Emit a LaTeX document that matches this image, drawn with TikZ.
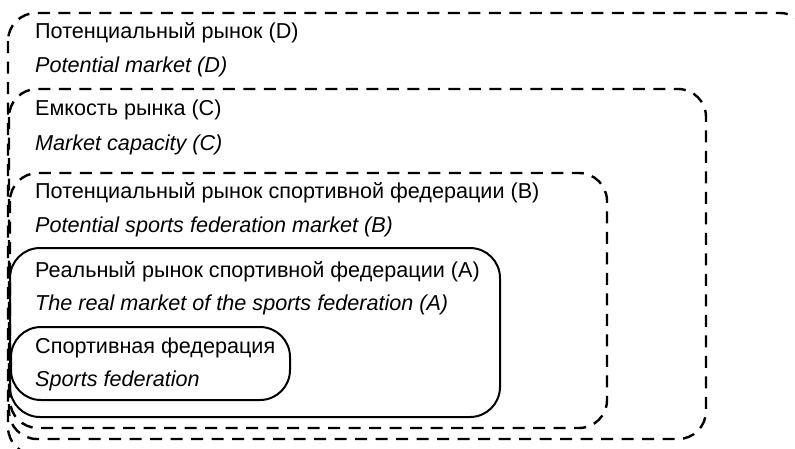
\documentclass[tikz,border=0pt]{standalone}
\usepackage{fontspec}
\setmainfont{Liberation Sans}
\usepackage{tikz}

\begin{document}
\begin{tikzpicture}[x=1pt, y=-1pt,
  dashbox/.style = {draw, line width=2.4pt, dash pattern=on 12pt off 8.5pt, rounded corners=28pt},
  solidbox/.style = {draw, line width=2pt, rounded corners=30pt},
  ru/.style = {anchor=west, inner sep=0pt, font=\fontsize{21.6}{25}\selectfont},
  en/.style = {anchor=west, inner sep=0pt, font=\fontsize{21.6}{25}\selectfont\itshape}]
\useasboundingbox (0,0) rectangle (795,448); \clip (0,0) rectangle (795,448);
\draw [dashbox] (8,13) rectangle (808,455); \draw [dashbox] (9,89) rectangle (706,439); \draw [dashbox] (10,173) rectangle (607,428);
\draw [solidbox] (10,248) rectangle (500,417); \draw [solidbox] (11,327) rectangle (290,400);
\node[ru](dru) at (35,33) {Потенциальный рынок (D)}; \node[en](den) at (35,67) {Potential market (D)};
\node[ru](cru) at (35,110) {Емкость рынка (C)}; \node[en](cen) at (35,145) {Market capacity (C)};
\node[ru](bru) at (35,193) {Потенциальный рынок спортивной федерации (B)}; \node[en](ben) at (35,227) {Potential sports federation market (B)};
\node[ru](aru) at (35,272) {Реальный рынок спортивной федерации (A)}; \node[en](aen) at (35,305) {The real market of the sports federation (A)};
\node[ru](fru) at (35,348) {Спортивная федерация}; \node[en](fen) at (35,381) {Sports federation};
\end{tikzpicture}
\end{document}
